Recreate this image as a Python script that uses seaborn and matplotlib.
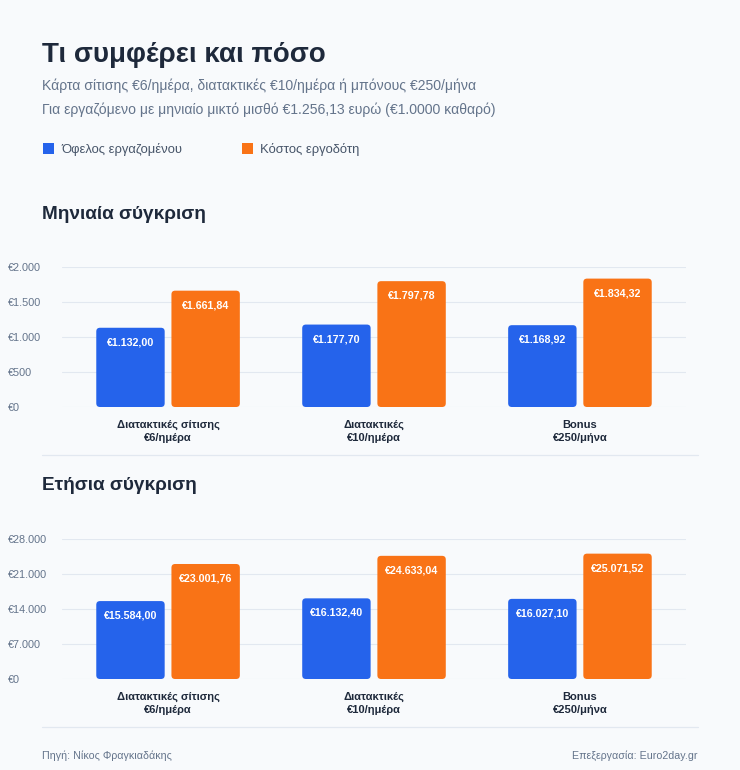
import matplotlib.pyplot as plt
import pandas as pd
import seaborn as sns
from matplotlib.lines import Line2D
from matplotlib.patches import FancyBboxPatch, Patch

categories = ["Διατακτικές σίτισης\n€6/ημέρα", "Διατακτικές\n€10/ημέρα", "Bonus\n€250/μήνα"]
series = ["Όφελος εργαζομένου", "Κόστος εργοδότη"]
monthly_benefit = [1132.00, 1177.70, 1168.92]
monthly_cost = [1661.84, 1797.78, 1834.32]
annual_benefit = [15584.00, 16132.40, 16027.10]
annual_cost = [23001.76, 24633.04, 25071.52]
monthly_ticks = [0, 500, 1000, 1500, 2000]
annual_ticks = [0, 7000, 14000, 21000, 28000]

BLUE = "#2563eb"
ORANGE = "#f97316"
BG = "#f8fafc"
DARK = "#1e293b"
GRAY = "#64748b"
GRID = "#e2e8f0"

sns.set_theme(style="white")
plt.rcParams["font.family"] = ["Liberation Sans", "DejaVu Sans"]


def gr_num(v, dec=2):
    s = f"{v:,.{dec}f}"
    return s.replace(",", "X").replace(".", ",").replace("X", ".")


def make_df(benefit, cost):
    rows = []
    for c, b, k in zip(categories, benefit, cost):
        rows.append({"cat": c, "series": series[0], "value": b})
        rows.append({"cat": c, "series": series[1], "value": k})
    return pd.DataFrame(rows)


def draw_panel(ax, benefit, cost, ticks):
    df = make_df(benefit, cost)
    sns.barplot(data=df, x="cat", y="value", hue="series", palette=[BLUE, ORANGE],
                width=0.73, gap=0.09, legend=False, ax=ax, saturation=1)
    ax.set_ylim(ticks[0], ticks[-1])
    ax.set_xlim(-0.515, 2.515)
    ax.set_facecolor(BG)
    for s in ax.spines.values():
        s.set_visible(False)
    ax.set_yticks(ticks)
    ax.set_yticklabels(["€" + gr_num(t, 0) for t in ticks], ha="left", color=GRAY, fontsize=7.8)
    ax.tick_params(axis="y", length=0, pad=39)
    ax.tick_params(axis="x", length=0, pad=9)
    for lbl in ax.get_xticklabels():
        lbl.set_fontweight("bold")
        lbl.set_fontsize(8)
        lbl.set_color(DARK)
        lbl.set_linespacing(1.45)
    ax.grid(axis="y", color=GRID, linewidth=0.8)
    ax.set_axisbelow(True)
    ax.set_xlabel("")
    ax.set_ylabel("")

    # rounded bars
    bbox = ax.get_window_extent()
    x0, x1 = ax.get_xlim()
    y0, y1 = ax.get_ylim()
    aspect = ((y1 - y0) / bbox.height) / ((x1 - x0) / bbox.width)
    for p in list(ax.patches):
        x, y, w, h = p.get_x(), p.get_y(), p.get_width(), p.get_height()
        fb = FancyBboxPatch((x, y), w, h, boxstyle="round,pad=0,rounding_size=0.018",
                            mutation_aspect=aspect, facecolor=p.get_facecolor(),
                            edgecolor="none", zorder=2)
        p.remove()
        ax.add_patch(fb)
        ax.annotate("€" + gr_num(y + h), (x + w / 2, y + h), xytext=(0, -10.5),
                    textcoords="offset points", ha="center", va="center",
                    color="white", fontweight="bold", fontsize=7.7, zorder=3)


fig = plt.figure(figsize=(7.4, 7.7), dpi=100, facecolor=BG)

fig.text(0.057, 0.929, "Τι συμφέρει και πόσο", fontsize=20, fontweight="bold",
         color=DARK, va="center")
fig.text(0.057, 0.888, "Κάρτα σίτισης €6/ημέρα, διατακτικές €10/ημέρα ή μπόνους €250/μήνα",
         fontsize=10.1, color=GRAY, va="center")
fig.text(0.057, 0.857, "Για εργαζόμενο με μηνιαίο μικτό μισθό €1.256,13 ευρώ (€1.0000 καθαρό)",
         fontsize=10.1, color=GRAY, va="center")

handles = [Patch(facecolor=BLUE, edgecolor="none"), Patch(facecolor=ORANGE, edgecolor="none")]
fig.legend(handles, series, loc="center left", bbox_to_anchor=(0.042, 0.806), ncol=2,
           frameon=False, handlelength=0.85, handleheight=0.85, handletextpad=0.55,
           columnspacing=4.6, fontsize=9.4, labelcolor="#475569")

fig.text(0.057, 0.722, "Μηνιαία σύγκριση", fontsize=13.7, fontweight="bold", color=DARK, va="center")
fig.text(0.057, 0.369, "Ετήσια σύγκριση", fontsize=13.7, fontweight="bold", color=DARK, va="center")

ax1 = fig.add_axes([62 / 740, 1 - 407 / 770, 624 / 740, 140 / 770])
ax2 = fig.add_axes([62 / 740, 1 - 679 / 770, 624 / 740, 140 / 770])
draw_panel(ax1, monthly_benefit, monthly_cost, monthly_ticks)
draw_panel(ax2, annual_benefit, annual_cost, annual_ticks)

for yy in [1 - 455 / 770, 1 - 727 / 770]:
    fig.add_artist(Line2D([42 / 740, 698 / 740], [yy, yy], color=GRID, linewidth=0.9))

fig.text(0.057, 1 - 756 / 770, "Πηγή: Νίκος Φραγκιαδάκης", fontsize=7.7, color=GRAY, va="center")
fig.text(698 / 740, 1 - 756 / 770, "Επεξεργασία: Euro2day.gr", fontsize=7.7, color=GRAY,
         va="center", ha="right")

fig.savefig("out.png", dpi=100, facecolor=BG)
